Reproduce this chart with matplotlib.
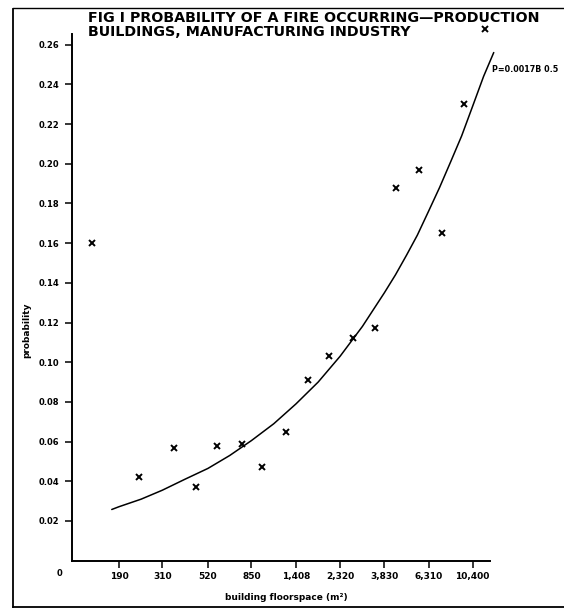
import numpy as np
import matplotlib
matplotlib.use("Agg")
from matplotlib import pyplot as plt
from matplotlib.lines import Line2D

# observed points (floorspace m2, probability)
floorspace = [140, 238, 354, 454, 578, 764, 961, 1254, 1608, 2048,
              2673, 3435, 4370, 5640, 7320, 9440, 11950]
probability = [0.160, 0.042, 0.057, 0.037, 0.058, 0.059, 0.047, 0.065, 0.091, 0.103,
               0.112, 0.117, 0.188, 0.197, 0.165, 0.230, 0.268]

# fitted curve
curve_b = [175, 190, 244, 310, 400, 520, 665, 850, 1095, 1408, 1810, 2320,
           2985, 3830, 4340, 4925, 5560, 6310, 7150, 8110, 9180, 10400, 11770, 13200]
curve_p = [0.0258, 0.0272, 0.031, 0.0355, 0.041, 0.0465, 0.053, 0.0605, 0.069, 0.079,
           0.090, 0.103, 0.118, 0.135, 0.144, 0.154, 0.164, 0.176, 0.188, 0.201,
           0.214, 0.229, 0.244, 0.256]

xticks = [190, 310, 520, 850, 1408, 2320, 3830, 6310, 10400]
xticklabels = ["190", "310", "520", "850", "1,408", "2,320", "3,830", "6,310", "10,400"]
yticks = [0.02, 0.04, 0.06, 0.08, 0.10, 0.12, 0.14, 0.16, 0.18, 0.20, 0.22, 0.24, 0.26]

title = "FIG I PROBABILITY OF A FIRE OCCURRING\u2014PRODUCTION\nBUILDINGS, MANUFACTURING INDUSTRY"
fit_label = "P=0.0017B 0.5"

plt.rcParams['font.family'] = ['DejaVu Sans']
plt.rcParams['font.weight'] = 'bold'

W, H = 564, 610
fig = plt.figure(figsize=(W / 100, H / 100), dpi=100)
fig.patch.set_facecolor('white')

x0, x1 = 72, 500
ybot, ytop = 560.7, 24.75
ax = fig.add_axes([x0 / W, (H - ybot) / H, (x1 - x0) / W, (ybot - ytop) / H])
ax.set_xscale('log')
ax.set_xlim(111.6, 14170)
ax.set_ylim(0, 0.27)

ax.plot(curve_b, curve_p, color='black', lw=1.1, solid_capstyle='round')
ax.plot(floorspace, probability, linestyle='none', marker='x', color='black',
        markersize=4, markeredgewidth=1.4, clip_on=False)

ax.spines['top'].set_visible(False)
ax.spines['right'].set_visible(False)
ax.spines['left'].set_linewidth(1.4)
ax.spines['bottom'].set_linewidth(1.4)
ax.spines['left'].set_bounds(0, 0.2653)
ax.spines['bottom'].set_bounds(111.6, 12650)

ax.set_xticks(xticks)
ax.set_xticklabels(xticklabels)
ax.xaxis.set_minor_locator(matplotlib.ticker.NullLocator())
ax.set_yticks(yticks)
ax.set_yticklabels(["%.2f" % v for v in yticks])
ax.tick_params(axis='both', direction='out', length=5, width=1.1, labelsize=6, pad=4)
ax.tick_params(axis='x', labelsize=6.5, pad=3)

# "0" at the origin
ax.text(97, -0.0065, "0", fontsize=6, fontweight='bold', ha='center', va='center', clip_on=False)

ax.text(12980, 0.2477, fit_label, fontsize=5.8, fontweight='bold', ha='left', va='center',
        clip_on=False)

fig.text(88 / W, 1 - 11 / H, title, fontsize=10.3, fontweight='bold', ha='left', va='top',
         linespacing=0.98)
fig.text(27 / W, 1 - 330 / H, "probability", rotation=90, fontsize=6.5, fontweight='bold',
         ha='center', va='center')
fig.text(286 / W, 1 - 597 / H, "building floorspace (m\u00b2)", fontsize=6.5, fontweight='bold',
         ha='center', va='center')

# frame round the figure
fig.add_artist(Line2D([13 / W, 13 / W], [1 - 9 / H, 1 - 607 / H], color='black', lw=1.3,
                      transform=fig.transFigure))
fig.add_artist(Line2D([13 / W, 1], [1 - 8 / H, 1 - 8 / H], color='black', lw=1.0,
                      transform=fig.transFigure))
fig.add_artist(Line2D([13 / W, 1], [1 - 607 / H, 1 - 607 / H], color='black', lw=1.3,
                      transform=fig.transFigure))

fig.savefig("out.png", dpi=100)
